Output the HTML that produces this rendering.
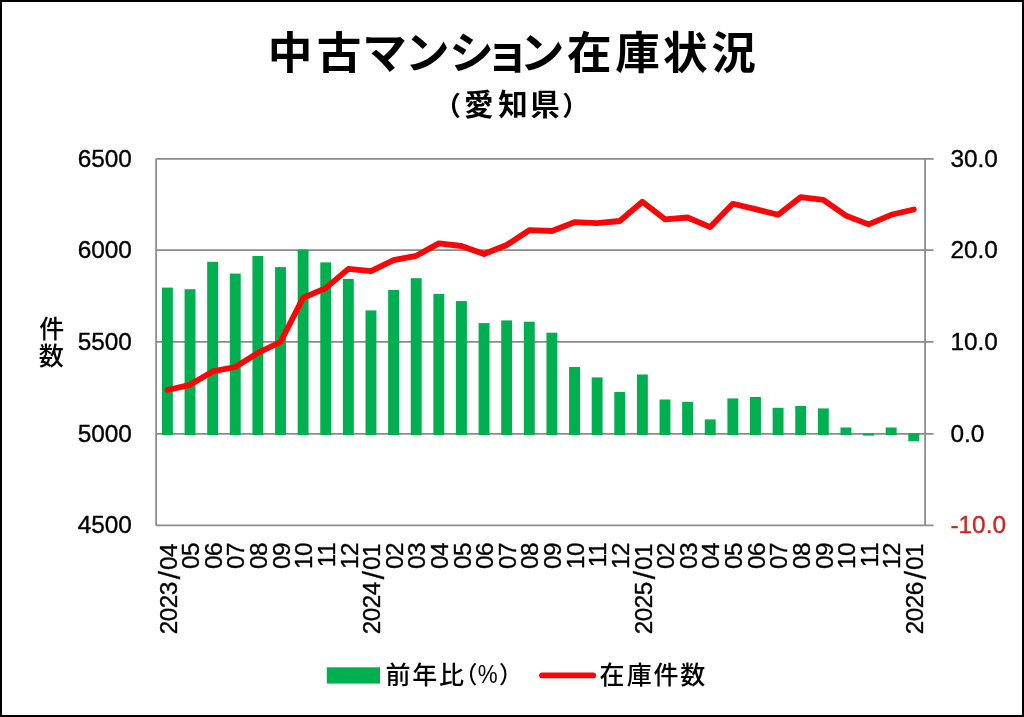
<!DOCTYPE html>
<html lang="ja">
<head>
<meta charset="utf-8">
<title>中古マンション在庫状況（愛知県）</title>
<style>
html,body{margin:0;padding:0;background:#fff;}
body{width:1024px;height:717px;overflow:hidden;}
svg{display:block;}
text{font-family:"Liberation Sans","Noto Sans CJK JP",sans-serif;fill:#000;}
.n{stroke:#000;stroke-width:0.35px;}
.r{fill:#D61F1F;stroke:#D61F1F;stroke-width:0.35px;}
.jp{font-family:"Liberation Sans","Noto Sans CJK JP",sans-serif;font-weight:500;}
</style>
</head>
<body>
<svg width="1024" height="717" viewBox="0 0 1024 717">
<rect x="0" y="0" width="1024" height="717" fill="#fff"/>
<rect x="1" y="1" width="1022" height="715" fill="none" stroke="#000" stroke-width="2"/>
<text class="jp" x="267.7 316.7 362.2 405.0 449.2 485.1 519.7 567.1 615.3 662.9 711.2" y="68.8" font-size="44.6" style="font-weight:700">中古マンション在庫状況</text>
<text class="jp" font-size="29.5" style="font-weight:700"><tspan x="434.4" y="115.1" font-size="26.4">（</tspan><tspan x="464.1 498.2 530.25" y="114.8">愛知県</tspan><tspan x="562.3" y="115.1" font-size="26.4">）</tspan></text>
<g stroke="#8b8b8b" stroke-width="1.75" fill="none">
<line x1="156.1" y1="158.85" x2="933.6" y2="158.85"/>
<line x1="156.1" y1="250.20" x2="933.6" y2="250.20"/>
<line x1="156.1" y1="341.80" x2="933.6" y2="341.80"/>
<line x1="156.1" y1="433.85" x2="933.6" y2="433.85"/>
<line x1="156.1" y1="525.35" x2="933.6" y2="525.35"/>
<line x1="156.1" y1="158.8" x2="156.1" y2="525.4"/>
<line x1="925.1" y1="158.8" x2="925.1" y2="525.4"/>
</g>
<g fill="#00B050">
<rect x="161.96" y="287.6" width="10.9" height="147.4"/>
<rect x="184.58" y="289.2" width="10.9" height="145.8"/>
<rect x="207.19" y="261.8" width="10.9" height="173.2"/>
<rect x="229.81" y="273.6" width="10.9" height="161.4"/>
<rect x="252.43" y="256.0" width="10.9" height="179.0"/>
<rect x="275.05" y="267.1" width="10.9" height="167.9"/>
<rect x="297.66" y="249.5" width="10.9" height="185.5"/>
<rect x="320.28" y="262.4" width="10.9" height="172.6"/>
<rect x="342.90" y="279.0" width="10.9" height="156.0"/>
<rect x="365.52" y="310.4" width="10.9" height="124.6"/>
<rect x="388.14" y="289.9" width="10.9" height="145.1"/>
<rect x="410.75" y="278.2" width="10.9" height="156.8"/>
<rect x="433.37" y="294.0" width="10.9" height="141.0"/>
<rect x="455.99" y="301.1" width="10.9" height="133.9"/>
<rect x="478.61" y="323.1" width="10.9" height="111.9"/>
<rect x="501.22" y="320.4" width="10.9" height="114.6"/>
<rect x="523.84" y="321.7" width="10.9" height="113.3"/>
<rect x="546.46" y="332.7" width="10.9" height="102.3"/>
<rect x="569.08" y="367.0" width="10.9" height="68.0"/>
<rect x="591.69" y="377.4" width="10.9" height="57.6"/>
<rect x="614.31" y="392.0" width="10.9" height="43.0"/>
<rect x="636.93" y="374.5" width="10.9" height="60.5"/>
<rect x="659.55" y="399.5" width="10.9" height="35.5"/>
<rect x="682.16" y="401.8" width="10.9" height="33.2"/>
<rect x="704.78" y="419.4" width="10.9" height="15.6"/>
<rect x="727.40" y="398.4" width="10.9" height="36.6"/>
<rect x="750.02" y="397.0" width="10.9" height="38.0"/>
<rect x="772.64" y="407.8" width="10.9" height="27.2"/>
<rect x="795.25" y="406.0" width="10.9" height="29.0"/>
<rect x="817.87" y="408.4" width="10.9" height="26.6"/>
<rect x="840.49" y="427.5" width="10.9" height="7.5"/>
<rect x="863.11" y="433.2" width="10.9" height="2.4"/>
<rect x="885.72" y="427.5" width="10.9" height="7.5"/>
<rect x="908.34" y="433.2" width="10.9" height="8.1"/>
</g>
<polyline points="167.41,390.0 190.03,384.8 212.64,371.4 235.26,367.0 257.88,352.9 280.50,342.0 303.11,297.9 325.73,288.1 348.35,268.9 370.97,271.2 393.59,260.1 416.20,255.8 438.82,243.4 461.44,246.0 484.06,254.0 506.67,245.0 529.29,230.2 551.91,231.0 574.53,222.2 597.14,223.2 619.76,221.0 642.38,201.7 665.00,219.3 687.61,217.5 710.23,227.1 732.85,203.8 755.47,209.1 778.09,214.8 800.70,197.1 823.32,199.8 845.94,215.6 868.56,224.4 891.17,214.8 913.79,209.5" fill="none" stroke="#F90707" stroke-width="5.8" stroke-linejoin="round" stroke-linecap="round"/>
<text class="n" x="131.9" y="166.5" font-size="24.4" text-anchor="end">6500</text>
<text class="n" x="131.9" y="257.9" font-size="24.4" text-anchor="end">6000</text>
<text class="n" x="131.9" y="349.5" font-size="24.4" text-anchor="end">5500</text>
<text class="n" x="131.9" y="441.6" font-size="24.4" text-anchor="end">5000</text>
<text class="n" x="131.9" y="533.1" font-size="24.4" text-anchor="end">4500</text>
<text x="950.4" y="166.5" font-size="24.4" class="n">30.0</text>
<text x="950.4" y="257.9" font-size="24.4" class="n">20.0</text>
<text x="950.4" y="349.5" font-size="24.4" class="n">10.0</text>
<text x="950.4" y="441.6" font-size="24.4" class="n">0.0</text>
<text x="950.4" y="533.1" font-size="24.4" class="r">-10.0</text>
<text class="jp" x="39.25 38.85" y="338.2 365.3" font-size="25">件数</text>
<text class="n" transform="translate(176.61,543.8) rotate(-90)" font-size="24.4" text-anchor="end" letter-spacing="-0.5">2023<tspan font-size="30" dx="2.9" dy="3.4">/</tspan><tspan dx="1.4" dy="-3.4">04</tspan></text>
<text class="n" transform="translate(199.23,542.8) rotate(-90)" font-size="24.4" text-anchor="end" letter-spacing="-0.5">05</text>
<text class="n" transform="translate(221.84,542.8) rotate(-90)" font-size="24.4" text-anchor="end" letter-spacing="-0.5">06</text>
<text class="n" transform="translate(244.46,542.8) rotate(-90)" font-size="24.4" text-anchor="end" letter-spacing="-0.5">07</text>
<text class="n" transform="translate(267.08,542.8) rotate(-90)" font-size="24.4" text-anchor="end" letter-spacing="-0.5">08</text>
<text class="n" transform="translate(289.70,542.8) rotate(-90)" font-size="24.4" text-anchor="end" letter-spacing="-0.5">09</text>
<text class="n" transform="translate(312.31,542.8) rotate(-90)" font-size="24.4" text-anchor="end" letter-spacing="-0.5">10</text>
<text class="n" transform="translate(334.93,542.8) rotate(-90)" font-size="24.4" text-anchor="end" letter-spacing="-0.5">11</text>
<text class="n" transform="translate(357.55,542.8) rotate(-90)" font-size="24.4" text-anchor="end" letter-spacing="-0.5">12</text>
<text class="n" transform="translate(380.17,543.8) rotate(-90)" font-size="24.4" text-anchor="end" letter-spacing="-0.5">2024<tspan font-size="30" dx="2.9" dy="3.4">/</tspan><tspan dx="1.4" dy="-3.4">01</tspan></text>
<text class="n" transform="translate(402.79,542.8) rotate(-90)" font-size="24.4" text-anchor="end" letter-spacing="-0.5">02</text>
<text class="n" transform="translate(425.40,542.8) rotate(-90)" font-size="24.4" text-anchor="end" letter-spacing="-0.5">03</text>
<text class="n" transform="translate(448.02,542.8) rotate(-90)" font-size="24.4" text-anchor="end" letter-spacing="-0.5">04</text>
<text class="n" transform="translate(470.64,542.8) rotate(-90)" font-size="24.4" text-anchor="end" letter-spacing="-0.5">05</text>
<text class="n" transform="translate(493.26,542.8) rotate(-90)" font-size="24.4" text-anchor="end" letter-spacing="-0.5">06</text>
<text class="n" transform="translate(515.87,542.8) rotate(-90)" font-size="24.4" text-anchor="end" letter-spacing="-0.5">07</text>
<text class="n" transform="translate(538.49,542.8) rotate(-90)" font-size="24.4" text-anchor="end" letter-spacing="-0.5">08</text>
<text class="n" transform="translate(561.11,542.8) rotate(-90)" font-size="24.4" text-anchor="end" letter-spacing="-0.5">09</text>
<text class="n" transform="translate(583.73,542.8) rotate(-90)" font-size="24.4" text-anchor="end" letter-spacing="-0.5">10</text>
<text class="n" transform="translate(606.34,542.8) rotate(-90)" font-size="24.4" text-anchor="end" letter-spacing="-0.5">11</text>
<text class="n" transform="translate(628.96,542.8) rotate(-90)" font-size="24.4" text-anchor="end" letter-spacing="-0.5">12</text>
<text class="n" transform="translate(651.58,543.8) rotate(-90)" font-size="24.4" text-anchor="end" letter-spacing="-0.5">2025<tspan font-size="30" dx="2.9" dy="3.4">/</tspan><tspan dx="1.4" dy="-3.4">01</tspan></text>
<text class="n" transform="translate(674.20,542.8) rotate(-90)" font-size="24.4" text-anchor="end" letter-spacing="-0.5">02</text>
<text class="n" transform="translate(696.81,542.8) rotate(-90)" font-size="24.4" text-anchor="end" letter-spacing="-0.5">03</text>
<text class="n" transform="translate(719.43,542.8) rotate(-90)" font-size="24.4" text-anchor="end" letter-spacing="-0.5">04</text>
<text class="n" transform="translate(742.05,542.8) rotate(-90)" font-size="24.4" text-anchor="end" letter-spacing="-0.5">05</text>
<text class="n" transform="translate(764.67,542.8) rotate(-90)" font-size="24.4" text-anchor="end" letter-spacing="-0.5">06</text>
<text class="n" transform="translate(787.29,542.8) rotate(-90)" font-size="24.4" text-anchor="end" letter-spacing="-0.5">07</text>
<text class="n" transform="translate(809.90,542.8) rotate(-90)" font-size="24.4" text-anchor="end" letter-spacing="-0.5">08</text>
<text class="n" transform="translate(832.52,542.8) rotate(-90)" font-size="24.4" text-anchor="end" letter-spacing="-0.5">09</text>
<text class="n" transform="translate(855.14,542.8) rotate(-90)" font-size="24.4" text-anchor="end" letter-spacing="-0.5">10</text>
<text class="n" transform="translate(877.76,542.8) rotate(-90)" font-size="24.4" text-anchor="end" letter-spacing="-0.5">11</text>
<text class="n" transform="translate(900.37,542.8) rotate(-90)" font-size="24.4" text-anchor="end" letter-spacing="-0.5">12</text>
<text class="n" transform="translate(922.99,543.8) rotate(-90)" font-size="24.4" text-anchor="end" letter-spacing="-0.5">2026<tspan font-size="30" dx="2.9" dy="3.4">/</tspan><tspan dx="1.4" dy="-3.4">01</tspan></text>
<rect x="326.8" y="667.3" width="53.2" height="16.3" fill="#00B050"/>
<text class="jp" font-size="25"><tspan x="385.4 412.2 439.1" y="683.7">前年比</tspan><tspan x="454.0" y="682.8" font-size="23.4">（</tspan><tspan x="477.8" y="683.3" font-size="25.5" textLength="19.9" lengthAdjust="spacingAndGlyphs">%</tspan><tspan x="499.0" y="682.8" font-size="23.4">）</tspan></text>
<line x1="542.0" y1="675.4" x2="593.2" y2="675.4" stroke="#F90707" stroke-width="5.8" stroke-linecap="round"/>
<text class="jp" x="599.5 626.7 653.4 680.3" y="683.7" font-size="25">在庫件数</text>
</svg>
</body>
</html>
